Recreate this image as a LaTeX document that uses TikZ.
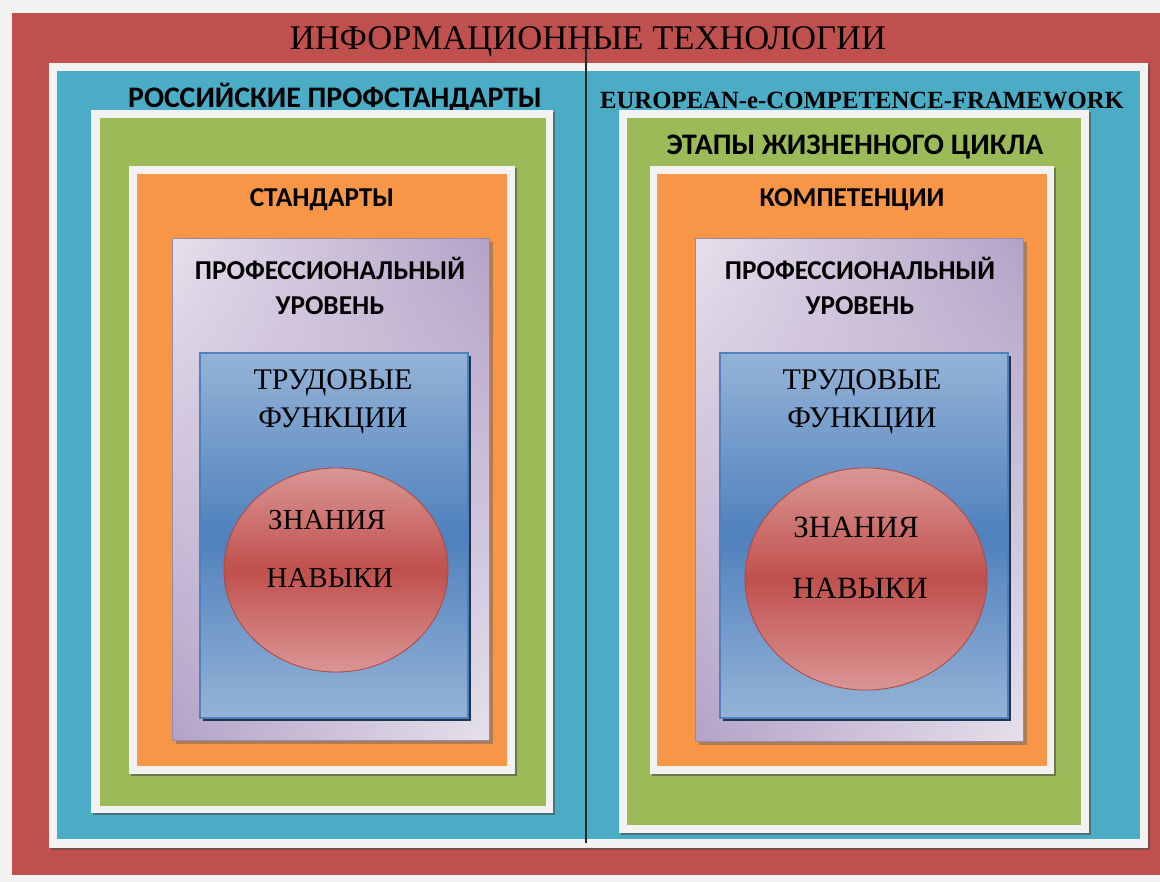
\documentclass[tikz,border=0pt]{standalone}
\usepackage{fontspec}
\setmainfont{Liberation Serif}
\newfontfamily\calibri{Carlito}
\usetikzlibrary{shadows, shadings}

\definecolor{bggray}{HTML}{F2F2F2}
\definecolor{itred}{HTML}{C0504D}
\definecolor{itteal}{HTML}{4BACC6}
\definecolor{itgreen}{HTML}{9BBB59}
\definecolor{itorange}{HTML}{F79646}
\definecolor{lilac}{HTML}{B3A2C7}
\definecolor{lilaclight}{HTML}{E6E0EC}
\definecolor{skyblue}{HTML}{95B3D7}
\definecolor{midblue}{HTML}{4F81BD}
\definecolor{rose}{HTML}{DA9694}

\begin{document}
\begin{tikzpicture}[x=0.025cm, y=-0.025cm,
    whiteframe/.style={fill=bggray, drop shadow={shadow xshift=0.06cm, shadow yshift=-0.06cm, fill=black!70, opacity=0.6}},
    lilacbox/.style={upper left=lilaclight, upper right=lilac, lower left=lilac, lower right=lilaclight, draw=lilac!85!black, line width=0.5pt},
    bluebox/.style={top color=skyblue, bottom color=skyblue, middle color=midblue, draw=midblue, line width=1.4pt},
    redoval/.style={top color=rose, bottom color=rose, middle color=itred, draw=itred!90!black, line width=0.6pt},
    boldtxt/.style={font=\calibri\bfseries\fontsize{19.4}{25}\selectfont, align=center},
    bighead/.style={font=\calibri\bfseries\fontsize{21.2}{25}\selectfont},
    seriftxt/.style={font=\fontsize{21.3}{27}\selectfont, align=center}]
  \useasboundingbox (0,0) rectangle (1160,882);
  \fill[bggray] (0,0) rectangle (1160,882);
  % outer frames
  \fill[itred] (12,13) rectangle (1160,875);
  \fill[whiteframe] (49,63) rectangle (1148,848);
  \fill[itteal] (57,71) rectangle (1140,839);
  \draw[black!85, line width=0.8pt] (586,48) -- (586,843);
  \node (title) at (588,42) {\fontsize{24.6}{28}\selectfont ИНФОРМАЦИОННЫЕ ТЕХНОЛОГИИ};
  % left half
  \node[bighead] (rusStd) at (335,98) {РОССИЙСКИЕ ПРОФСТАНДАРТЫ};
  \fill[whiteframe] (91,110) rectangle (553,813);
  \fill[itgreen] (100,118) rectangle (546,806);
  \fill[whiteframe] (129,166) rectangle (515,774);
  \fill[itorange] (137,174) rectangle (507,766);
  \node[boldtxt] (stdL) at (322,200) {СТАНДАРТЫ};
  \fill[black!60, opacity=0.5] (176,242) rectangle (493,744);
  \shade[lilacbox] (172,238) rectangle (489,740);
  \node[boldtxt] (profL) at (330,286) {ПРОФЕССИОНАЛЬНЫЙ\\УРОВЕНЬ};
  \fill[midblue!40!black] (203,356) rectangle (471,721);
  \shade[bluebox] (200,353) rectangle (468,718);
  \node[seriftxt] (funcL) at (333,402) {ТРУДОВЫЕ\\ФУНКЦИИ};
  \shade[redoval] (336,570) ellipse [x radius=2.8cm, y radius=2.55cm];
  \node[seriftxt, font=\fontsize{20.6}{27}\selectfont] (knowL) at (327,520) {ЗНАНИЯ};
  \node[seriftxt, font=\fontsize{20.6}{27}\selectfont] (skillL) at (330,578) {НАВЫКИ};
  % right half
  \node (eCF) at (862,100) {\bfseries\fontsize{17.6}{20}\selectfont EUROPEAN-e-COMPETENCE-FRAMEWORK};
  \fill[whiteframe] (619,110) rectangle (1089,833);
  \fill[itgreen] (627,118) rectangle (1081,825);
  \node[bighead] (lifeCycle) at (855,147) {ЭТАПЫ ЖИЗНЕННОГО ЦИКЛА};
  \fill[whiteframe] (650,166) rectangle (1054,774);
  \fill[itorange] (657,174) rectangle (1047,766);
  \node[boldtxt] (compR) at (852,200) {КОМПЕТЕНЦИИ};
  \fill[black!60, opacity=0.5] (699,242) rectangle (1027,745);
  \shade[lilacbox] (695,238) rectangle (1023,741);
  \node[boldtxt] (profR) at (860,286) {ПРОФЕССИОНАЛЬНЫЙ\\УРОВЕНЬ};
  \fill[midblue!40!black] (723,356) rectangle (1011,721);
  \shade[bluebox] (720,353) rectangle (1008,718);
  \node[seriftxt] (funcR) at (862,402) {ТРУДОВЫЕ\\ФУНКЦИИ};
  \shade[redoval] (866,579) ellipse [x radius=3.025cm, y radius=2.775cm];
  \node[seriftxt, font=\fontsize{22}{27}\selectfont] (knowR) at (856,527) {ЗНАНИЯ};
  \node[seriftxt, font=\fontsize{22}{27}\selectfont] (skillR) at (860,588) {НАВЫКИ};
\end{tikzpicture}
\end{document}
